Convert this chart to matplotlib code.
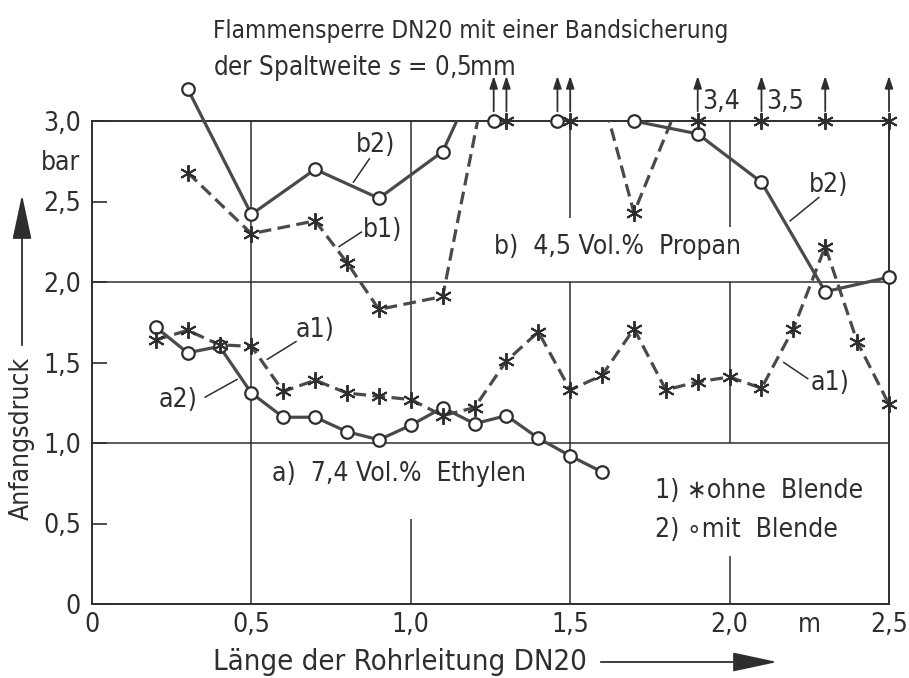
import numpy as np
import matplotlib
matplotlib.use("Agg")
import matplotlib.pyplot as plt
from matplotlib.patches import Polygon, FancyArrowPatch

plt.rcParams['font.family'] = ['DejaVu Sans']
plt.rcParams['font.stretch'] = 'condensed'
plt.rcParams['mathtext.fontset'] = 'dejavusans'

## Daten

# a) 7,4 Vol.% Ethylen
a1_x = [0.2, 0.3, 0.4, 0.5, 0.6, 0.7, 0.8, 0.9, 1.0, 1.1, 1.2, 1.3, 1.4, 1.5, 1.6, 1.7, 1.8, 1.9, 2.0, 2.1, 2.2, 2.3, 2.4, 2.5]
a1_y = [1.64, 1.70, 1.61, 1.60, 1.32, 1.39, 1.31, 1.29, 1.27, 1.17, 1.22, 1.51, 1.69, 1.33, 1.42, 1.71, 1.33, 1.38, 1.41, 1.34, 1.71, 2.22, 1.63, 1.24]
a2_x = [0.2, 0.3, 0.4, 0.5, 0.6, 0.7, 0.8, 0.9, 1.0, 1.1, 1.2, 1.3, 1.4, 1.5, 1.6]
a2_y = [1.72, 1.56, 1.60, 1.31, 1.16, 1.16, 1.07, 1.02, 1.11, 1.22, 1.12, 1.17, 1.03, 0.92, 0.82]

# b) 4,5 Vol.% Propan (Werte > 3 bar nur geschaetzt)
b1_x = [0.3, 0.5, 0.7, 0.8, 0.9, 1.1, 1.3, 1.5, 1.7, 1.9, 2.1, 2.3, 2.5]
b1_y = [2.68, 2.30, 2.38, 2.12, 1.83, 1.91, 3.9, 3.9, 2.43, 3.4, 3.5, 3.9, 3.9]
b1_ueber = [0, 0, 0, 0, 0, 0, 1, 1, 0, 1, 1, 1, 1]
b1_wert = ['', '', '', '', '', '', '', '', '', '3,4', '3,5', '', '']
b2_x = [0.3, 0.5, 0.7, 0.9, 1.1, 1.26, 1.46, 1.7, 1.9, 2.1, 2.3, 2.5]
b2_y = [3.2, 2.42, 2.70, 2.52, 2.81, 3.5, 3.5, 3.0, 2.92, 2.62, 1.94, 2.03]
b2_ueber = [0, 0, 0, 0, 0, 1, 1, 0, 0, 0, 0, 0]

yticks = [0, 0.5, 1.0, 1.5, 2.0, 2.5, 3.0]
ylabels = ['0', '0,5', '1,0', '1,5', '2,0', '2,5', '3,0']
xticks = [0, 0.5, 1.0, 1.5, 2.0, 2.25, 2.5]
xlabels = ['0', '0,5', '1,0', '1,5', '2,0', 'm', '2,5']

farbe = '#4a4a4a'
tinte = '#2e2e2e'
W, H = 909, 678
fs = 19

def fx(p):
    return p / W

def fy(p):
    return 1 - p / H

fig = plt.figure(figsize=(W / 100, H / 100), dpi=100)
ax = fig.add_axes([fx(92), 74 / H, 797 / W, 483 / H])
ax.set_xlim(0, 2.5)
ax.set_ylim(0, 3.0)

for s in ax.spines.values():
    s.set_linewidth(1.4)
    s.set_color(tinte)

ax.set_yticks(yticks, ylabels)
ax.set_xticks(xticks, xlabels)
ax.tick_params(axis='y', direction='in', length=11, width=1.2, color=tinte,
               labelsize=fs, labelcolor=tinte, pad=8)
ax.tick_params(axis='x', length=0, labelsize=fs, labelcolor=tinte, pad=6)
ax.text(-0.015, 2.74, 'bar', transform=ax.get_yaxis_transform(), ha='right',
        va='center', fontsize=fs, color=tinte)

#gitter, unterbrochen wie in der Vorlage
gk = dict(color=tinte, lw=1.1, zorder=1)
ax.hlines([1.0, 2.0], 0, 2.5, **gk)
ax.vlines([0.5], [0], [3.0], **gk)
ax.vlines([1.0, 1.0], [0, 1.27], [0.53, 3.0], **gk)
ax.vlines([1.5, 1.5], [0, 2.4], [2.0, 3.0], **gk)
ax.vlines([2.0, 2.0, 2.0], [0, 1.0, 2.34], [0.3, 2.0, 3.0], **gk)

#clip: oben nur links vom 0,45 offen
clip = Polygon([(-0.1, -0.1), (2.6, -0.1), (2.6, 3.0), (0.42, 3.0), (0.42, 3.4), (-0.1, 3.4)],
               transform=ax.transData)

def kurve(x, y, ueber, marker, gestrichelt):
    x = np.array(x)
    y = np.array(y)
    ls = (0, (4, 2)) if gestrichelt else '-'
    ln, = ax.plot(x, y, linestyle=ls, color=farbe, lw=2.3, zorder=3)
    ln.set_clip_path(clip)
    ln.set_clip_box(None)
    ym = np.where(np.array(ueber) == 1, 3.0, y)
    if marker == 'o':
        ax.plot(x, ym, 'o', ms=9, mfc='white', mec=tinte, mew=1.6, zorder=4, clip_on=False)
    else:
        ax.plot(x, ym, linestyle='none', marker=(6, 2, 0), ms=12, mec=tinte, mew=1.4,
                zorder=4, clip_on=False)
    for xi, u in zip(x, ueber):
        if u:
            ax.annotate('', xy=(xi, 3.28), xytext=(xi, 3.06), annotation_clip=False,
                        arrowprops=dict(arrowstyle='-|>,head_length=0.6,head_width=0.2',
                                        color=tinte, lw=1.3, mutation_scale=12,
                                        shrinkA=0, shrinkB=0))

kurve(a2_x, a2_y, [0] * len(a2_x), 'o', False)
kurve(a1_x, a1_y, [0] * len(a1_x), '*', True)
kurve(b2_x, b2_y, b2_ueber, 'o', False)
kurve(b1_x, b1_y, b1_ueber, '*', True)

for xi, w in zip(b1_x, b1_wert):
    if w:
        ax.text(xi + 0.015, 3.12, w, fontsize=fs, color=tinte, ha='left', va='center',
                clip_on=False)

#beschriftungen der kurven mit hinweislinien
txt = dict(fontsize=fs, color=tinte, ha='center', va='center')
hinweise = [('b2)', (0.89, 2.85), (0.87, 2.765), (0.82, 2.62)),
            ('b1)', (0.91, 2.32), (0.845, 2.31), (0.775, 2.22)),
            ('b2)', (2.31, 2.60), (2.28, 2.525), (2.19, 2.38)),
            ('a1)', (0.70, 1.70), (0.64, 1.63), (0.55, 1.52)),
            ('a2)', (0.27, 1.27), (0.355, 1.285), (0.455, 1.395)),
            ('a1)', (2.315, 1.37), (2.245, 1.40), (2.17, 1.50))]
for t, pos, p0, p1 in hinweise:
    ax.text(pos[0], pos[1], t, **txt)
    ax.plot([p0[0], p1[0]], [p0[1], p1[1]], color=tinte, lw=1.1, zorder=2)

ax.text(1.26, 2.22, 'b)  4,5 Vol.%  Propan', fontsize=fs, color=tinte, va='center')
ax.text(0.565, 0.81, 'a)  7,4 Vol.%  Ethylen', fontsize=fs, color=tinte, va='center')
ax.text(1.766, 0.70, '1) \u2217ohne  Blende', fontsize=fs, color=tinte, va='center')
ax.text(1.766, 0.46, '2) \u2218mit  Blende', fontsize=fs, color=tinte, va='center')

#titel
fig.text(fx(213), fy(31), 'Flammensperre DN20 mit einer Bandsicherung', fontsize=17.5,
         color=tinte, va='center')
fig.text(fx(213), fy(68), 'der Spaltweite $s$ = 0,5mm', fontsize=18.5, color=tinte, va='center')

#achsentitel mit pfeilen
fig.text(fx(22), fy(438), 'Anfangsdruck', rotation=90, fontsize=fs, color=tinte,
         ha='center', va='center')
fig.add_artist(FancyArrowPatch((fx(22), fy(348)), (fx(22), fy(192)), transform=fig.transFigure,
                               arrowstyle='-|>,head_length=1.4,head_width=0.3',
                               mutation_scale=20, color=tinte, lw=1.3))
fig.text(fx(213), fy(662), 'L\u00e4nge der Rohrleitung DN20', fontsize=21, color=tinte,
         va='center')
fig.add_artist(FancyArrowPatch((fx(598), fy(662)), (fx(780), fy(662)), transform=fig.transFigure,
                               arrowstyle='-|>,head_length=1.4,head_width=0.3',
                               mutation_scale=20, color=tinte, lw=1.3))

fig.savefig('out.png', dpi=100)
